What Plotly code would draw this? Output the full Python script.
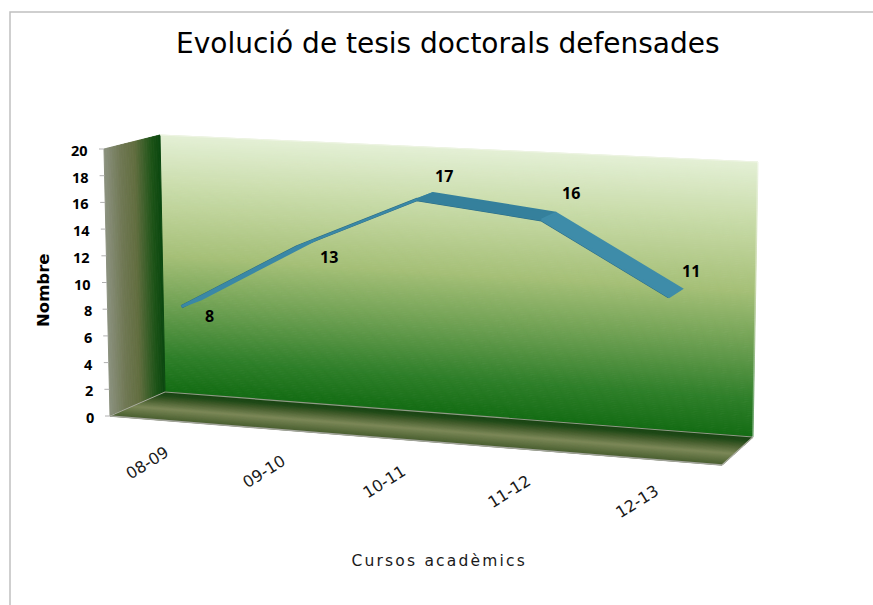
import plotly.graph_objects as go

# ---------- data ----------
CATEGORIES = ["08-09", "09-10", "10-11", "11-12", "12-13"]
VALUES = [8, 13, 17, 16, 11]
Y_TICKS = [0, 2, 4, 6, 8, 10, 12, 14, 16, 18, 20]
TITLE = "Evolució de tesis doctorals defensades"
Y_TITLE = "Nombre"
X_TITLE = "Cursos acadèmics"
LABEL_OFFSETS = [(28, 9), (32, 10), (27, -23), (29, -27), (22, -26)]

# ---------- 3D box: pixel corners (u: left/right, w: bottom/top, d: front/back) ----------
CORNERS = {
    (0, 0, 0): (110, 416), (0, 1, 0): (104, 149),
    (0, 0, 1): (165, 392), (0, 1, 1): (160, 135),
    (1, 0, 0): (722, 465), (1, 1, 0): (727, 179),
    (1, 0, 1): (753, 437), (1, 1, 1): (758, 162),
}
Y_MAX = 20
RIBBON_FRONT, RIBBON_BACK = 0.315, 0.685


def proj(u, v, d):
    w = v / Y_MAX
    x = y = 0.0
    for (a, b, c), (px, py) in CORNERS.items():
        k = (u if a else 1 - u) * (w if b else 1 - w) * (d if c else 1 - d)
        x += k * px
        y += k * py
    return x, y


def cat_u(i):
    u = (i + 0.5) / len(CATEGORIES)
    return u - 0.08 * u * (1 - u)


def lerp_color(stops, t):
    for (t0, c0), (t1, c1) in zip(stops, stops[1:]):
        if t <= t1:
            f = (t - t0) / (t1 - t0) if t1 > t0 else 0
            r = [round(c0[i] + (c1[i] - c0[i]) * f) for i in range(3)]
            return f"rgb({r[0]},{r[1]},{r[2]})"
    c = stops[-1][1]
    return f"rgb({c[0]},{c[1]},{c[2]})"


BACK_STOPS = [(0, (228, 240, 214)), (0.22, (200, 219, 168)), (0.47, (166, 192, 120)),
              (0.68, (106, 158, 80)), (0.865, (47, 127, 42)), (1, (20, 109, 20))]
SIDE_STOPS = [(0, (140, 146, 128)), (0.3, (112, 120, 84)), (0.55, (98, 110, 64)),
              (0.85, (30, 84, 24)), (1, (12, 72, 16))]
FLOOR_STOPS = [(0, (72, 92, 48)), (0.12, (84, 104, 56)), (0.42, (124, 136, 88)), (0.7, (70, 94, 46)),
               (0.88, (32, 74, 24)), (1, (26, 68, 20))]

shapes = []


def quad(points, color, width=1):
    path = "M " + " L ".join(f"{x:.2f},{y:.2f}" for x, y in points) + " Z"
    shapes.append(dict(type="path", path=path, xref="x", yref="y", fillcolor=color,
                       line=dict(color=color, width=width), layer="below"))


N = 140
for i in range(N):
    t0, t1 = i / N, (i + 1) / N
    # back wall: t from top to bottom
    quad([proj(0, Y_MAX * (1 - t0), 1), proj(1, Y_MAX * (1 - t0), 1),
          proj(1, Y_MAX * (1 - t1), 1), proj(0, Y_MAX * (1 - t1), 1)],
         lerp_color(BACK_STOPS, (t0 + t1) / 2))
for i in range(40):
    t0, t1 = i / 40, (i + 1) / 40
    # side wall: front to back
    quad([proj(0, Y_MAX, t0), proj(0, Y_MAX, t1), proj(0, 0, t1), proj(0, 0, t0)],
         lerp_color(SIDE_STOPS, (t0 + t1) / 2))
    # floor: front to back
    quad([proj(0, 0, t0), proj(1, 0, t0), proj(1, 0, t1), proj(0, 0, t1)],
         lerp_color(FLOOR_STOPS, (t0 + t1) / 2))

fig = go.Figure()


def line(points, color, width):
    fig.add_trace(go.Scatter(x=[p[0] for p in points], y=[p[1] for p in points], mode="lines",
                             line=dict(color=color, width=width), hoverinfo="skip", showlegend=False))


# box edges
line([proj(0, 0, 1), proj(1, 0, 1)], "#8f9c86", 1.2)
line([proj(0, 0, 0), proj(1, 0, 0)], "#a3a59c", 1.5)
line([proj(1, 0, 0), proj(1, 0, 1)], "#a9ab9f", 1.2)
line([proj(0, 0, 0), proj(0, 0, 1)], "#a9ab9f", 1)
line([proj(0, Y_MAX, 1), proj(1, Y_MAX, 1)], "#eef4e4", 1)
line([proj(1, Y_MAX, 1), proj(1, 0, 1)], "rgba(255,255,255,0.35)", 2)

# y tick marks
for v in Y_TICKS:
    x, y = proj(0, v, 0)
    line([(x - 5, y), (x, y)], "#b0b0b0", 1)

# ribbon
front = [proj(cat_u(i), v, RIBBON_FRONT) for i, v in enumerate(VALUES)]
back = [proj(cat_u(i), v, RIBBON_BACK) for i, v in enumerate(VALUES)]
shades = ["#3a88a6", "#3a88a6", "#35809c", "#3e8ca9"]
line(front, "#2a6a84", 3.4)
for i in range(len(VALUES) - 1):
    poly = [front[i], front[i + 1], back[i + 1], back[i], front[i]]
    fig.add_trace(go.Scatter(x=[p[0] for p in poly], y=[p[1] for p in poly], mode="lines", fill="toself",
                             fillcolor=shades[i], line=dict(color=shades[i], width=2.4),
                             hoverinfo="skip", showlegend=False))

annotations = []


def text(x, y, s, size, family="DejaVu Sans", color="#000000", angle=0, xanchor="center"):
    annotations.append(dict(x=x, y=y, xref="x", yref="y", text=s, showarrow=False, textangle=angle,
                            xanchor=xanchor, yanchor="middle",
                            font=dict(family=family, size=size, color=color)))


text(448, 43, TITLE, 28)
text(43, 291, f"<b>{Y_TITLE}</b>", 16.5, angle=-90)
text(439, 561, X_TITLE, 15.5, color="#1a1a1a")
for v in Y_TICKS:
    x, y = proj(0, v, 0)
    text(x - 14, y + 1, f"<b>{v}</b>", 14.5, family="Noto Sans", xanchor="right")
for i, c in enumerate(CATEGORIES):
    x, y = proj(cat_u(i), 0, 0)
    text(x - 19, y + 42, c, 16, color="#1a1a1a", angle=-32)
for i, v in enumerate(VALUES):
    x, y = front[i]
    text(x + LABEL_OFFSETS[i][0], y + LABEL_OFFSETS[i][1], f"<b>{v}</b>", 16, family="Noto Sans")

# outer frame
line([(10, 605), (10, 12), (873, 12)], "#c0c0c0", 1.5)

fig.update_layout(
    width=873, height=605, autosize=False, margin=dict(l=0, r=0, t=0, b=0),
    paper_bgcolor="white", plot_bgcolor="white", showlegend=False,
    shapes=shapes, annotations=annotations,
    xaxis=dict(range=[0, 873], visible=False, fixedrange=True),
    yaxis=dict(range=[605, 0], visible=False, fixedrange=True),
)
POST = """
document.body.style.margin='0';
document.querySelectorAll('text.annotation-text').forEach(function(t){
  if (t.textContent === %r) { t.style.letterSpacing = '2.2px'; }
});
""" % X_TITLE
fig.write_html("out.html", config={"displayModeBar": False}, post_script=POST)
